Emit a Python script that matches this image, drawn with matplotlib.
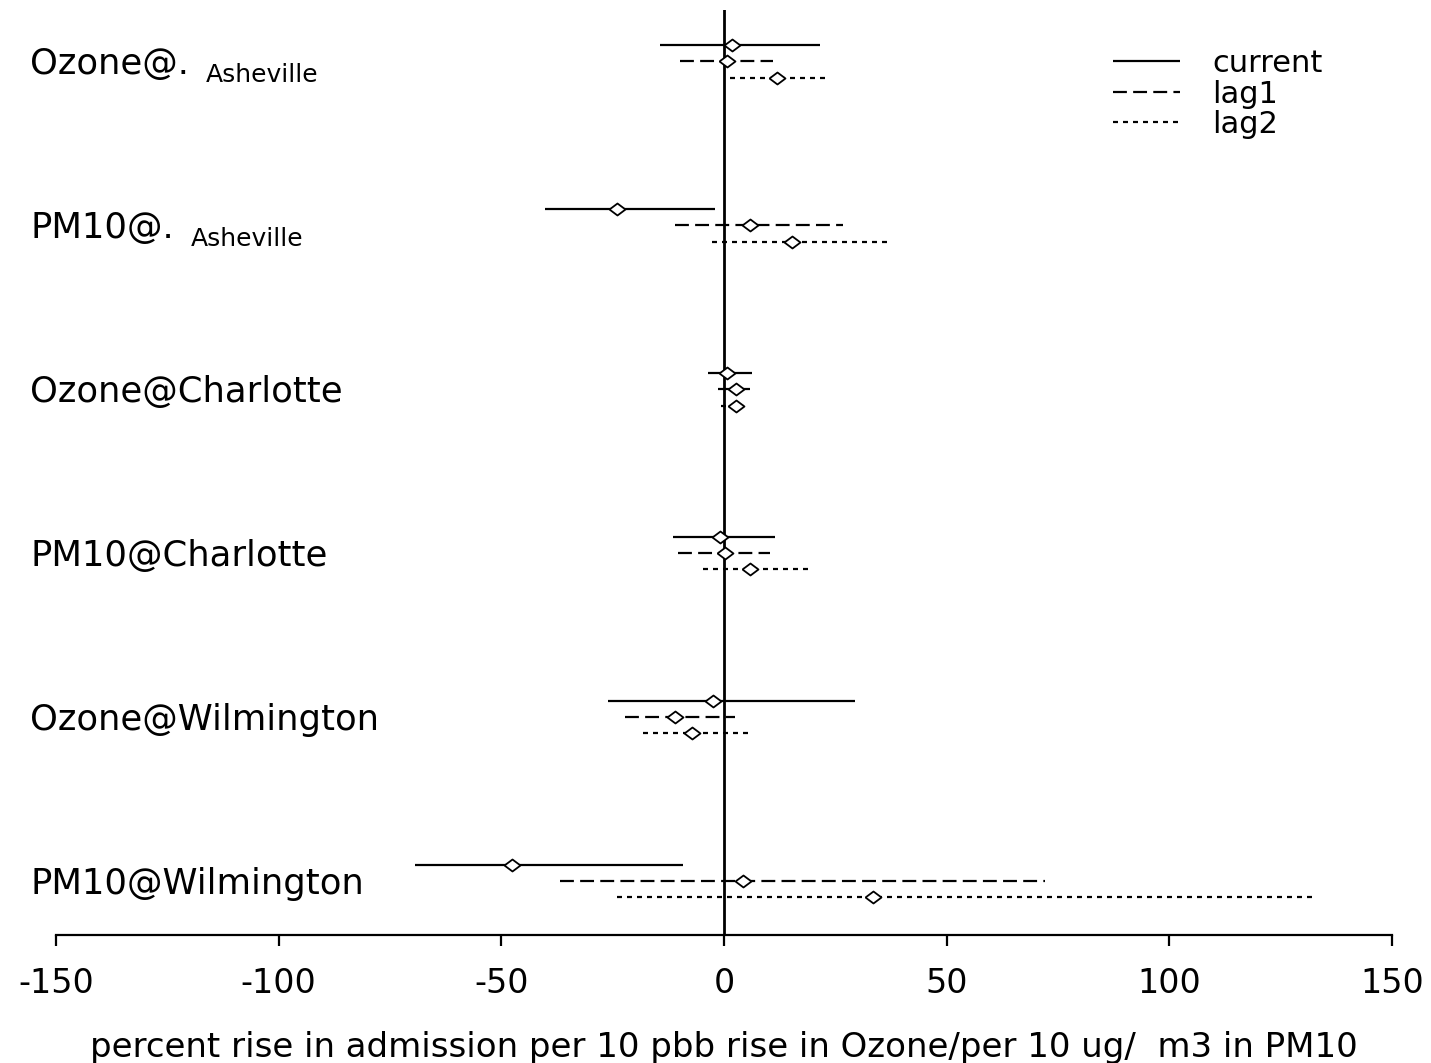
import numpy as np
import matplotlib
matplotlib.use("Agg")
import matplotlib.pyplot as plt
import matplotlib.transforms as mtransforms

plt.rcParams['font.family'] = ['DejaVu Sans']
plt.rcParams['lines.scale_dashes'] = False

# estimates and 95% intervals, top to bottom: current, lag1, lag2
groups = ["Ozone@Asheville", "PM10@Asheville", "Ozone@Charlotte",
          "PM10@Charlotte", "Ozone@Wilmington", "PM10@Wilmington"]
lags = ["current", "lag1", "lag2"]

est = [[1.8, 0.7, 11.9],
       [-24.0, 5.8, 15.3],
       [0.7, 2.7, 2.7],
       [-0.9, 0.2, 5.8],
       [-2.5, -11.0, -7.2],
       [-47.6, 4.3, 33.5]]
lo = [[-14.4, -9.9, 1.3],
      [-40.2, -11.0, -2.7],
      [-3.6, -1.3, -0.7],
      [-11.5, -10.3, -4.7],
      [-26.0, -22.2, -18.2],
      [-69.4, -36.8, -24.0]]
hi = [[21.6, 11.0, 22.9],
      [-2.0, 26.7, 36.8],
      [6.3, 5.8, 4.5],
      [11.5, 10.3, 18.9],
      [29.4, 2.5, 5.4],
      [-9.2, 72.1, 132.3]]

xticks = [-150, -100, -50, 0, 50, 100, 150]
styles = ["-", (0, (10, 4.5)), (0, (3.6, 3.6))]

fig = plt.figure(figsize=(14.31, 10.63), dpi=100)
ax = fig.add_axes([56 / 1431, 1 - 935 / 1063, (1392 - 56) / 1431, (935 - 10) / 1063])

diamond = [(-1, 0), (0, 0.75), (1, 0), (0, -0.75), (-1, 0)]

for g in range(len(groups)):
    for k in range(len(lags)):
        y = g * 10 + k
        ax.hlines(y, lo[g][k], hi[g][k], colors="black", linewidth=1.6,
                  linestyles=styles[k], label=lags[k] if g == 0 else None)
        ax.plot(est[g][k], y, marker=diamond, markersize=11.5, color="black",
                markerfacecolor="white", markeredgewidth=1.3, zorder=4)

ax.axvline(0, color="black", linewidth=2)

ax.set_xlim(-150, 150)
ax.set_ylim(54.3, -2.13)

for s in ["top", "right", "left"]:
    ax.spines[s].set_visible(False)
ax.spines["bottom"].set_bounds(-150, 150)
ax.spines["bottom"].set_linewidth(1.6)
ax.set_yticks([])
ax.set_xticks(xticks)
ax.set_xticklabels([str(t) for t in xticks])
ax.tick_params(axis="x", direction="out", length=8, width=1.6, pad=15, labelsize=24)
ax.set_xlabel("percent rise in admission per 10 pbb rise in Ozone/per 10 ug/  m3 in PM10",
              fontsize=24.5, labelpad=22)

# group labels; Asheville is written smaller, just after the prefix
trans = mtransforms.blended_transform_factory(fig.transFigure, ax.transData)
for g, name in enumerate(groups):
    y = g * 10 + 1.8
    prefix, city = name.split("@")
    if city == "Asheville":
        t = ax.text(30 / 1431, y, prefix + "@.", transform=trans, fontsize=25.5,
                    va="baseline", ha="left")
        ax.annotate(city, xy=(1, 0), xycoords=t, xytext=(12, -4),
                    textcoords="offset points", fontsize=18, va="bottom", ha="left")
    else:
        ax.text(30 / 1431, y, name, transform=trans, fontsize=25.5,
                va="baseline", ha="left")

ax.legend(loc="upper left", bbox_to_anchor=(1113 / 1431, 1 - 49 / 1063),
          bbox_transform=fig.transFigure, frameon=False, fontsize=22,
          handlelength=2.19, handletextpad=1.05, labelspacing=0.05,
          borderpad=0, borderaxespad=0)

fig.savefig("out.png", dpi=100)
